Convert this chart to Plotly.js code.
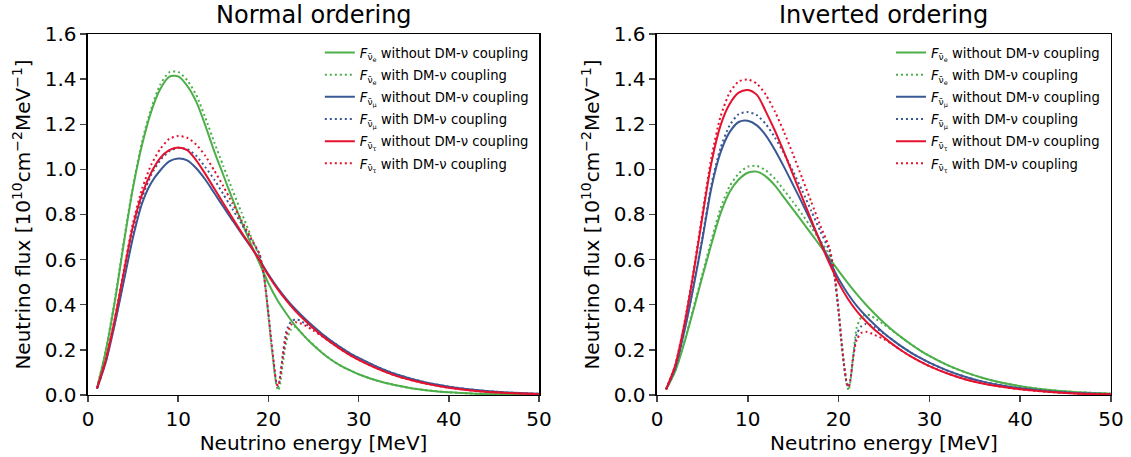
<!DOCTYPE html>
<html>
<head>
<meta charset="utf-8">
<script src="https://cdn.plot.ly/plotly-3.0.1.min.js"></script>
<style>html,body{margin:0;padding:0;background:#fff;}#plot{width:1131px;height:457px;}</style>
</head>
<body>
<div id="plot"></div>
<script>
// Energy grids [MeV]
const energy = [1,2,3,4,5,6,7,8,9,10,11,12,13,14,15,16,17,18,19,20,21,22,23,24,25,26,27,28,29,30,32,34,36,38,40,43,46,50];
const energyDM = [1,2,3,4,5,6,7,8,9,10,11,12,13,14,15,16,17,18,19,19.5,20,20.3,20.6,20.9,21.1,21.3,21.6,22,22.5,23,23.5,24,25,26,27,28,29,30,32,34,36,38,40,43,46,50];

// Normal ordering, without DM-nu coupling
const normNueNo = [0.03,0.20,0.42,0.68,0.92,1.11,1.255,1.355,1.41,1.412,1.37,1.30,1.195,1.08,0.975,0.87,0.77,0.675,0.585,0.495,0.42,0.36,0.305,0.26,0.22,0.185,0.155,0.13,0.11,0.092,0.064,0.044,0.029,0.019,0.012,0.006,0.003,0.001];
const normNumNo = [0.028,0.15,0.32,0.51,0.70,0.85,0.94,0.995,1.035,1.048,1.04,1.005,0.955,0.895,0.835,0.775,0.716,0.66,0.60,0.535,0.476,0.425,0.38,0.34,0.303,0.269,0.239,0.211,0.186,0.164,0.126,0.094,0.07,0.051,0.037,0.022,0.012,0.005];
const normNutNo = [0.03,0.16,0.34,0.55,0.75,0.89,0.985,1.05,1.085,1.097,1.085,1.04,0.98,0.915,0.85,0.785,0.722,0.662,0.598,0.53,0.47,0.418,0.372,0.332,0.295,0.261,0.231,0.203,0.178,0.156,0.118,0.087,0.064,0.046,0.032,0.018,0.010,0.004];
// Normal ordering, with DM-nu coupling
const normNueDM = [0.03,0.205,0.43,0.69,0.93,1.125,1.27,1.375,1.43,1.432,1.395,1.33,1.23,1.12,1.015,0.91,0.81,0.71,0.61,0.53,0.35,0.23,0.125,0.04,0.02,0.05,0.14,0.24,0.29,0.302,0.283,0.26,0.222,0.186,0.155,0.13,0.11,0.092,0.064,0.044,0.029,0.019,0.012,0.006,0.003,0.001];
const normNumDM = [0.028,0.152,0.325,0.52,0.715,0.875,0.975,1.04,1.08,1.095,1.09,1.06,1.01,0.955,0.89,0.825,0.76,0.695,0.625,0.53,0.36,0.245,0.14,0.05,0.04,0.08,0.18,0.285,0.325,0.335,0.33,0.318,0.295,0.266,0.238,0.211,0.186,0.164,0.126,0.094,0.07,0.051,0.037,0.022,0.012,0.005];
const normNutDM = [0.03,0.162,0.345,0.56,0.765,0.915,1.02,1.09,1.135,1.148,1.14,1.11,1.06,0.995,0.925,0.85,0.775,0.70,0.625,0.53,0.36,0.245,0.14,0.05,0.04,0.08,0.17,0.265,0.31,0.322,0.318,0.31,0.285,0.258,0.231,0.203,0.178,0.156,0.118,0.087,0.064,0.046,0.032,0.018,0.010,0.004];

// Inverted ordering, without DM-nu coupling
const invNueNo = [0.025,0.105,0.23,0.375,0.525,0.67,0.805,0.9,0.955,0.985,0.99,0.968,0.928,0.875,0.822,0.768,0.714,0.66,0.605,0.55,0.497,0.447,0.401,0.359,0.32,0.285,0.253,0.224,0.197,0.173,0.132,0.1,0.074,0.054,0.039,0.023,0.013,0.006];
const invNumNo = [0.025,0.12,0.28,0.475,0.69,0.92,1.075,1.165,1.21,1.215,1.195,1.15,1.085,1.01,0.93,0.85,0.765,0.68,0.595,0.515,0.45,0.395,0.35,0.31,0.274,0.242,0.213,0.187,0.164,0.143,0.108,0.08,0.058,0.042,0.03,0.017,0.009,0.004];
const invNutNo = [0.025,0.13,0.31,0.535,0.79,1.03,1.195,1.29,1.34,1.352,1.33,1.255,1.17,1.075,0.975,0.875,0.775,0.675,0.582,0.497,0.428,0.372,0.327,0.288,0.255,0.223,0.195,0.17,0.148,0.128,0.095,0.069,0.05,0.036,0.025,0.014,0.007,0.003];
// Inverted ordering, with DM-nu coupling
const invNueDM = [0.025,0.107,0.235,0.383,0.537,0.688,0.828,0.925,0.982,1.012,1.015,0.995,0.958,0.907,0.855,0.8,0.742,0.683,0.62,0.55,0.38,0.25,0.14,0.05,0.02,0.06,0.17,0.3,0.345,0.357,0.352,0.34,0.312,0.283,0.253,0.224,0.197,0.173,0.132,0.1,0.074,0.054,0.039,0.023,0.013,0.006];
const invNumDM = [0.025,0.121,0.283,0.48,0.7,0.935,1.095,1.195,1.245,1.254,1.24,1.2,1.14,1.07,0.99,0.905,0.815,0.725,0.635,0.54,0.37,0.24,0.13,0.05,0.035,0.07,0.16,0.27,0.305,0.315,0.31,0.3,0.272,0.242,0.213,0.187,0.164,0.143,0.108,0.08,0.058,0.042,0.03,0.017,0.009,0.004];
const invNutDM = [0.025,0.132,0.315,0.545,0.805,1.055,1.235,1.34,1.39,1.398,1.38,1.33,1.255,1.165,1.065,0.96,0.855,0.75,0.65,0.55,0.37,0.24,0.13,0.05,0.035,0.065,0.17,0.245,0.275,0.28,0.275,0.265,0.248,0.222,0.195,0.17,0.148,0.128,0.095,0.069,0.05,0.036,0.025,0.014,0.007,0.003];

const panelTitles = ['Normal ordering', 'Inverted ordering'];
const flavorLabels = ['<i>F</i><sub>ν̄<sub>e</sub></sub>', '<i>F</i><sub>ν̄<sub>μ</sub></sub>', '<i>F</i><sub>ν̄<sub>τ</sub></sub>'];
const xTicks = [0,10,20,30,40,50];
const yTicks = [0,0.2,0.4,0.6,0.8,1.0,1.2,1.4,1.6];

const colors = ['#4daf4a', '#3a5894', '#e4112f'];

const panels = [
  {xa:'x', ya:'y', leg:'legend', no:[normNueNo, normNumNo, normNutNo], dm:[normNueDM, normNumDM, normNutDM]},
  {xa:'x2', ya:'y2', leg:'legend2', no:[invNueNo, invNumNo, invNutNo], dm:[invNueDM, invNumDM, invNutDM]}
];

const traces = [];
panels.forEach((p, k) => {
  for (let i = 0; i < 3; i++) {
    traces.push({x: energy, y: p.no[i], xaxis: p.xa, yaxis: p.ya, legend: p.leg, legendgroup: 'g' + k + i + 'a', mode: 'lines',
      name: flavorLabels[i] + ' without DM-ν coupling',
      line: {color: colors[i], width: 2, shape: 'spline', smoothing: 0.8}});
    traces.push({x: energyDM, y: p.dm[i], xaxis: p.xa, yaxis: p.ya, legend: p.leg, legendgroup: 'g' + k + i + 'b', mode: 'lines',
      name: flavorLabels[i] + ' with DM-ν coupling',
      line: {color: colors[i], width: 2, dash: '2px,3px', shape: 'spline', smoothing: 0.6}});
  }
});

const font = 'DejaVu Sans, sans-serif';
function xaxis(domain, anchor) {
  return {domain: domain, anchor: anchor, range: [0, 50], tickvals: xTicks, ticks: 'outside', ticklen: 6, tickwidth: 1.5,
    showline: true, mirror: true, linecolor: '#000', linewidth: 1.5, showgrid: false, zeroline: false,
    tickfont: {family: font, size: 20, color: '#000'},
    title: {text: 'Neutrino energy [MeV]', font: {family: font, size: 20, color: '#000'}, standoff: 5}};
}
function yaxis(domain, anchor) {
  return {domain: domain, anchor: anchor, range: [0, 1.6], tickvals: yTicks, tickformat: '.1f', ticks: 'outside', ticklen: 6, tickwidth: 1.5,
    showline: true, mirror: true, linecolor: '#000', linewidth: 1.5, showgrid: false, zeroline: false,
    tickfont: {family: font, size: 20, color: '#000'},
    title: {text: 'Neutrino flux [10<sup>10</sup>cm<sup>−2</sup>MeV<sup>−1</sup>]', font: {family: font, size: 20, color: '#000'}, standoff: 8}};
}
const yd = [0.1357, 0.9256];
const legendBase = {bgcolor: 'rgba(0,0,0,0)', borderwidth: 0, font: {family: font, size: 13.2, color: '#000'},
  xanchor: 'right', yanchor: 'top', tracegroupgap: 2, itemwidth: 30};

const layout = {
  width: 1131, height: 457, paper_bgcolor: '#fff', plot_bgcolor: '#fff',
  margin: {l: 0, r: 0, t: 0, b: 0},
  showlegend: true,
  xaxis: xaxis([0.0778, 0.4766], 'y'),
  yaxis: yaxis(yd, 'x'),
  xaxis2: xaxis([0.5809, 0.9823], 'y2'),
  yaxis2: yaxis(yd, 'x2'),
  legend: Object.assign({}, legendBase, {x: 0.472, y: 0.918}),
  legend2: Object.assign({}, legendBase, {x: 0.977, y: 0.918}),
  annotations: panelTitles.map((t, k) => ({
    text: t, xref: (k ? 'x2' : 'x') + ' domain', yref: 'paper', x: 0.5, y: 0.932, xanchor: 'center', yanchor: 'bottom',
    showarrow: false, font: {family: font, size: 24, color: '#000'}
  }))
};

Plotly.newPlot('plot', traces, layout, {staticPlot: true, displayModeBar: false});
</script>
</body>
</html>
